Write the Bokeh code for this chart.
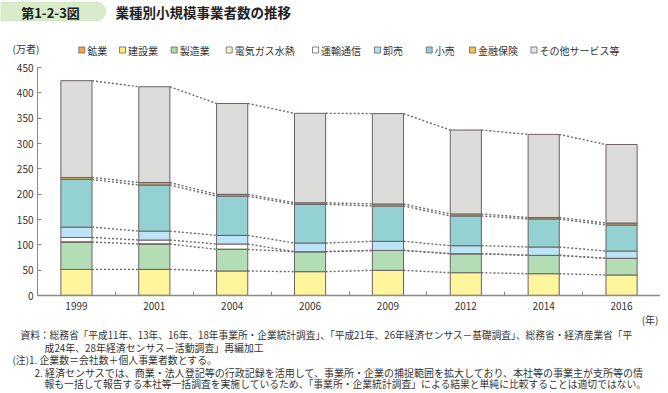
from bokeh.plotting import figure
from bokeh.layouts import column
from bokeh.models import Range1d, FixedTicker, BoxAnnotation, ColumnDataSource
from bokeh.core.properties import value
from bokeh.embed import file_html
from bokeh.resources import INLINE

# ---------------- data (万者) ----------------
years = ["1999", "2001", "2004", "2006", "2009", "2012", "2014", "2016"]
mining = [0.3, 0.3, 0.3, 0.2, 0.2, 0.2, 0.2, 0.2]
construction = [51.2, 51.3, 48.1, 46.8, 49.5, 44.8, 42.8, 40.3]
manufacturing = [54.0, 50.0, 42.6, 39.5, 39.3, 37.5, 36.3, 32.9]
utilities = [0.5, 0.5, 0.5, 0.0, 0.0, 0.0, 0.0, 0.0]
transport = [8.5, 7.4, 10.1, 0.0, 0.0, 0.0, 0.0, 0.0]
wholesale = [20.5, 17.5, 17.1, 17.1, 18.0, 15.8, 16.4, 14.4]
retail = [94.0, 91.0, 77.3, 76.4, 69.6, 58.7, 55.3, 51.2]
finance = [4.0, 5.0, 3.7, 3.0, 4.0, 4.0, 3.0, 4.0]
services = [191.0, 189.0, 179.3, 176.6, 178.4, 165.6, 164.0, 155.0]

series_names = ["鉱業", "建設業", "製造業", "電気ガス水熱", "運輸通信", "卸売", "小売", "金融保険", "その他サービス等"]
series_values = [mining, construction, manufacturing, utilities, transport, wholesale, retail, finance, services]
series_colors = ["#F2A73B", "#FFF59D", "#B3DDB5", "#FBF6DC", "#FFFFFF", "#BDE3F7", "#93D1D3", "#C8A461", "#DCDCDA"]
marker_colors = ["#F2A73B", "#FFF176", "#A9D8AB", "#FBF0CC", "#FFFFFF", "#B5DFF5", "#8ED0D4", "#F2C34A", "#E6E6E6"]
y_ticks = [0, 50, 100, 150, 200, 250, 300, 350, 400, 450]

FONT = "Noto Sans CJK JP"
TXT = "#333333"
W = 660
HH, MH = 60, 253
FH = 393 - HH - MH


def blank(h):
    f = figure(width=W, height=h, x_range=Range1d(0, W), y_range=Range1d(h, 0),
               output_backend="svg", toolbar_location=None, min_border=0,
               x_axis_location=None, y_axis_location=None, frame_align=False)
    f.grid.visible = False
    f.outline_line_color = None
    return f


def put(f, x, y, text, size="10px", align="left", bold=False, color=TXT):
    f.text(x=[x], y=[y], text=[text], text_font=value(FONT), text_font_size=size,
           text_align=align, text_baseline="middle", text_color=color,
           text_font_style="bold" if bold else "normal")


# ---------------- header (x = page x - 8, y = page y) ----------------
hdr = blank(HH)
hdr.add_layout(BoxAnnotation(left=-14, right=105, top=1.5, bottom=20.5, border_radius=9,
                             fill_color="#D8EBCA", fill_alpha=1, line_color="#A9CF8F",
                             line_width=1, level="underlay"))
put(hdr, 50, 11.5, "第1-2-3図", size="13px", align="center", bold=True, color="#222222")
put(hdr, 115, 11.5, "業種別小規模事業者数の推移", size="13.5px", bold=True, color="#222222")
put(hdr, 12, 48, "(万者)")
leg_x = [81.3, 122, 173.7, 228.7, 315, 377, 428.7, 472, 533.5]
ly = 49.5
hdr.quad(left=[x - 3 for x in leg_x], right=[x + 3 for x in leg_x],
         top=[ly - 3] * len(leg_x), bottom=[ly + 3] * len(leg_x),
         fill_color=marker_colors, line_color="#666666", line_width=0.8)
hdr.text(x=[x + 5.5 for x in leg_x], y=[ly] * len(leg_x), text=series_names, text_font=value(FONT),
         text_font_size="10px", text_align="left", text_baseline="middle", text_color=TXT)

# ---------------- main chart ----------------
p = figure(width=W, height=MH, x_range=Range1d(0, len(years)), y_range=Range1d(0, 450),
           output_backend="svg", toolbar_location=None, frame_align=False,
           min_border_left=37, min_border_right=0, min_border_top=7, min_border_bottom=18)
p.grid.visible = False
p.outline_line_color = None

xc = [i + 0.5 for i in range(len(years))]
src = {"x": xc}
for name, vals in zip(series_names, series_values):
    src[name] = vals
source = ColumnDataSource(src)
p.vbar_stack(series_names, x="x", width=0.4, source=source, fill_color=series_colors,
             line_color="#6b6262", line_width=1)


def cum(k):
    return [sum(series_values[j][i] for j in range(k + 1)) for i in range(len(years))]


bw = 0.2
for k in [1, 2, 4, 5, 6, 7, 8]:
    c = cum(k)
    p.segment(x0=[xc[i] + bw for i in range(len(years) - 1)], y0=c[:-1],
              x1=[xc[i + 1] - bw for i in range(len(years) - 1)], y1=c[1:],
              line_color="#6a6a6a", line_width=1.4, line_dash="2 2")

p.xaxis.ticker = FixedTicker(ticks=xc, minor_ticks=[i + 1 for i in range(len(years))])
p.xaxis.major_label_overrides = {x: y for x, y in zip(xc, years)}
p.xaxis.major_tick_line_color = None
p.xaxis.minor_tick_in = 4
p.xaxis.minor_tick_out = 0
p.xaxis.minor_tick_line_color = "#888888"
p.xaxis.axis_line_color = "#8a8a8a"
p.xaxis.axis_line_width = 1.5
p.xaxis.major_label_standoff = 0

p.yaxis.ticker = FixedTicker(ticks=y_ticks)
p.yaxis.major_tick_in = 4
p.yaxis.major_tick_out = 0
p.yaxis.minor_tick_line_color = None
p.yaxis.major_tick_line_color = "#888888"
p.yaxis.axis_line_color = "#8a8a8a"
p.yaxis.major_label_standoff = 4

for ax in (p.xaxis, p.yaxis):
    ax.major_label_text_font = FONT
    ax.major_label_text_font_size = "10px"
    ax.major_label_text_color = TXT

# ---------------- footer (x = page x - 8, y = page y - 313) ----------------
ftr = blank(FH)
put(ftr, 658, 5.5, "(年)", align="right")
notes = [
    "資料：総務省「平成11年、13年、16年、18年事業所・企業統計調査」、「平成21年、26年経済センサス－基礎調査」、総務省・経済産業省「平",
    "成24年、28年経済センサス－活動調査」再編加工",
    "(注)1. 企業数＝会社数＋個人事業者数とする。",
    "2. 経済センサスでは、商業・法人登記等の行政記録を活用して、事業所・企業の捕捉範囲を拡大しており、本社等の事業主が支所等の情",
    "報も一括して報告する本社等一括調査を実施しているため、「事業所・企業統計調査」による結果と単純に比較することは適切ではない。",
]
nx = [20, 44, 12, 34, 44]
ny = [21.5, 34, 46.5, 58.5, 70]
nsize = ["9.7px", "9.9px", "9.9px", "10px", "9.8px"]
for x, y, t, s in zip(nx, ny, notes, nsize):
    put(ftr, x, y, t, size=s)

layout = column(hdr, p, ftr, spacing=0)
open("out.html", "w").write(file_html(layout, INLINE))
